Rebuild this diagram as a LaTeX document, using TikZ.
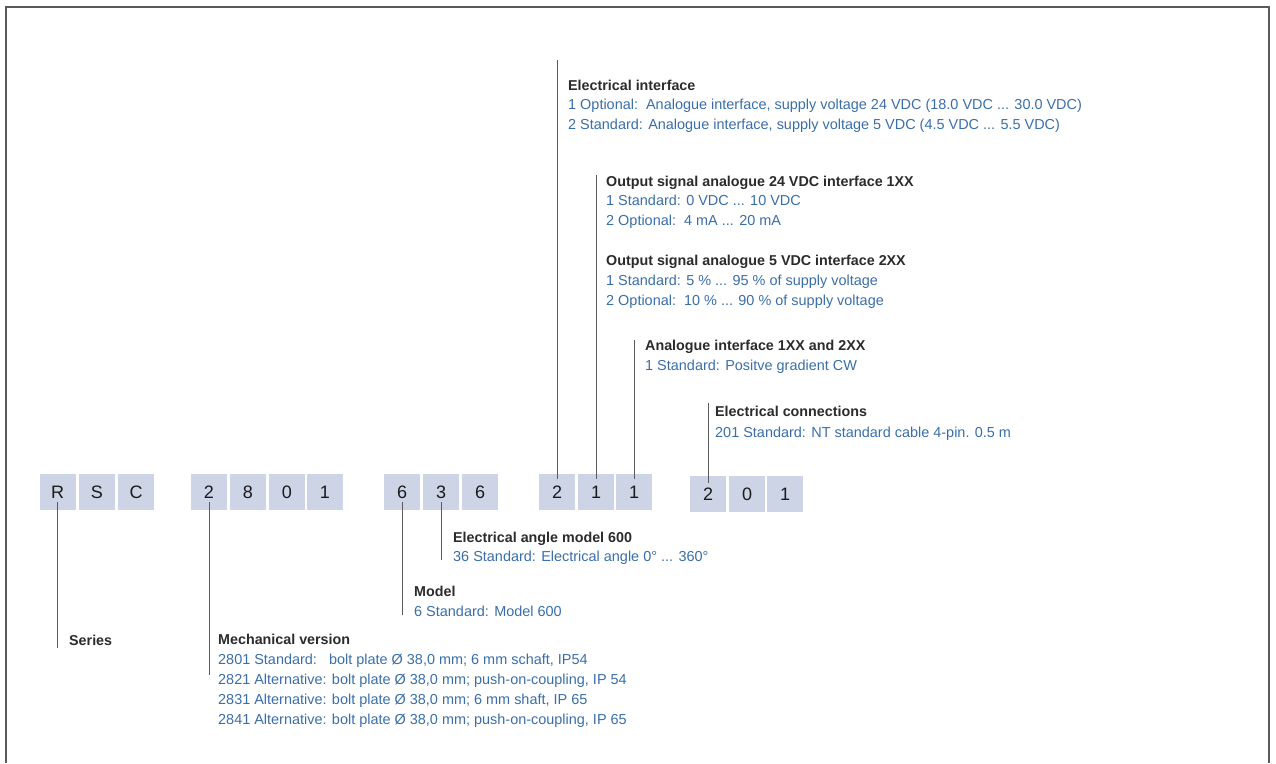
\documentclass[tikz,border=0pt]{standalone}
\usepackage{fontspec}
\setmainfont{Liberation Sans}
\definecolor{boxfill}{HTML}{CDD4E6}
\definecolor{headc}{HTML}{2B2B2B}
\definecolor{digc}{HTML}{1A1A1A}
\definecolor{bluet}{HTML}{3A6EA8}
\definecolor{linec}{HTML}{5A5A5A}
\begin{document}
\begin{tikzpicture}[x=1pt,y=-1pt,
  digit/.style={fill=boxfill,minimum width=36pt,minimum height=36pt,inner sep=0pt,text=digc,font=\fontsize{18}{18}\selectfont},
  head/.style={anchor=base west,inner sep=0pt,text=headc,font=\fontsize{14.3}{16}\selectfont\bfseries},
  opt/.style={anchor=base west,inner sep=0pt,text=bluet,font=\fontsize{14.45}{16}\selectfont},
  lead/.style={draw=linec,line width=1pt}]
\useasboundingbox (0,0) rectangle (1276,763);
\draw[linec,line width=1.3pt] (6,763) -- (6,7) -- (1269,7) -- (1269,763);
% boxes
\node[digit] (r) at (57.5,492) {R};
\node[digit] (s) at (97,492) {S};
\node[digit] (c) at (136,492) {C};
\node[digit] (m1) at (209,492) {2};
\node[digit] (m2) at (248,492) {8};
\node[digit] (m3) at (287,492) {0};
\node[digit] (m4) at (325,492) {1};
\node[digit] (a1) at (402,492) {6};
\node[digit] (a2) at (441,492) {3};
\node[digit] (a3) at (480,492) {6};
\node[digit] (e1) at (557,492) {2};
\node[digit] (e2) at (596,492) {1};
\node[digit] (e3) at (634,492) {1};
\node[digit] (c1) at (708,494) {2};
\node[digit] (c2) at (747,494) {0};
\node[digit] (c3) at (785,494) {1};
% top labels
\node[head] (eih) at (568,90) {Electrical interface};
\node[opt] (ei1) at (568,109) {1 Optional:\ \ Analogue interface, supply voltage 24 VDC (18.0 VDC ... 30.0 VDC)};
\node[opt] (ei2) at (568,129) {2 Standard: Analogue interface, supply voltage 5 VDC (4.5 VDC ... 5.5 VDC)};
\node[head] (o1h) at (606,186) {Output signal analogue 24 VDC interface 1XX};
\node[opt] (o11) at (606,205) {1 Standard: 0 VDC ... 10 VDC};
\node[opt] (o12) at (606,225) {2 Optional:\ \ 4 mA ... 20 mA};
\node[head] (o2h) at (606,265) {Output signal analogue 5 VDC interface 2XX};
\node[opt] (o21) at (606,285) {1 Standard: 5 \% ... 95 \% of supply voltage};
\node[opt] (o22) at (606,305) {2 Optional:\ \ 10 \% ... 90 \% of supply voltage};
\node[head] (aih) at (645,350) {Analogue interface 1XX and 2XX};
\node[opt] (ai1) at (645,370) {1 Standard: Positve gradient CW};
\node[head] (ech) at (715,416) {Electrical connections};
\node[opt] (ec1) at (715,437) {201 Standard: NT standard cable 4-pin. 0.5 m};
% bottom labels
\node[head] (eah) at (453,542) {Electrical angle model 600};
\node[opt] (ea1) at (453,561) {36 Standard: Electrical angle 0° ... 360°};
\node[head] (mdh) at (414,596) {Model};
\node[opt] (md1) at (414,616) {6 Standard: Model 600};
\node[head] (srh) at (69,645) {Series};
\node[head] (mvh) at (218,644) {Mechanical version};
\node[opt] (mv1) at (218,664) {2801 Standard:\ \ \ bolt plate Ø 38,0 mm; 6 mm schaft, IP54};
\node[opt] (mv2) at (218,684) {2821 Alternative: bolt plate Ø 38,0 mm; push-on-coupling, IP 54};
\node[opt] (mv3) at (218,704) {2831 Alternative: bolt plate Ø 38,0 mm; 6 mm shaft, IP 65};
\node[opt] (mv4) at (218,724) {2841 Alternative: bolt plate Ø 38,0 mm; push-on-coupling, IP 65};
% end coordinates
\coordinate (eiend) at (557,60);
\coordinate (oend) at (595,175);
\coordinate (aiend) at (634,340);
\coordinate (ecend) at (708,403);
\coordinate (srend) at (57.5,648);
\coordinate (mvend) at (209,675);
\coordinate (mdend) at (402,615);
\coordinate (eaend) at (441,560);
% leader lines
\draw[lead] ([yshift=-5pt]e1.north) -- (e1.north |- eiend);
\draw[lead] ([yshift=-5pt]e2.north) -- (e2.north |- oend);
\draw[lead] ([yshift=-5pt]e3.north) -- (e3.north |- aiend);
\draw[lead] ([yshift=-7pt]c1.north) -- (c1.north |- ecend);
\draw[lead] ([yshift=8pt]r.south) -- (r.south |- srend);
\draw[lead] ([yshift=8pt]m1.south) -- (m1.south |- mvend);
\draw[lead] ([yshift=8pt]a1.south) -- (a1.south |- mdend);
\draw[lead] ([yshift=8pt]a2.south) -- (a2.south |- eaend);
\end{tikzpicture}
\end{document}
